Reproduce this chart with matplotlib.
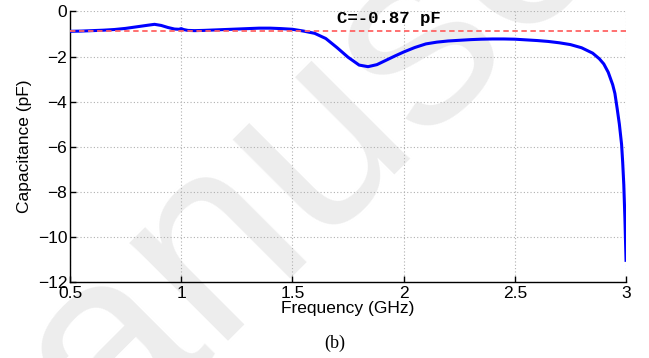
import numpy as np
import matplotlib
matplotlib.use("Agg")
import matplotlib.pyplot as plt

# measured capacitance vs frequency
freq = [0.50, 0.55, 0.60, 0.65, 0.70, 0.75, 0.80, 0.85, 0.88, 0.91,
        0.94, 0.97, 0.99, 1.00, 1.01, 1.03, 1.06, 1.10, 1.15, 1.20,
        1.25, 1.30, 1.35, 1.40, 1.45, 1.50, 1.55, 1.60, 1.65, 1.70,
        1.75, 1.80, 1.84, 1.88, 1.92, 1.96, 2.00, 2.05, 2.10, 2.15,
        2.20, 2.25, 2.30, 2.35, 2.40, 2.45, 2.50, 2.55, 2.60, 2.65,
        2.70, 2.75, 2.80, 2.85, 2.88, 2.90, 2.92, 2.94, 2.95, 2.96,
        2.97, 2.98, 2.985, 2.99, 2.995, 3.00]
cap = [-0.88, -0.87, -0.85, -0.83, -0.80, -0.75, -0.68, -0.61, -0.57, -0.62,
       -0.71, -0.78, -0.79, -0.76, -0.80, -0.84, -0.85, -0.84, -0.82, -0.80,
       -0.78, -0.76, -0.74, -0.74, -0.76, -0.79, -0.87, -0.97, -1.20, -1.60,
       -2.03, -2.38, -2.45, -2.36, -2.17, -1.98, -1.80, -1.60, -1.44, -1.36,
       -1.31, -1.28, -1.25, -1.23, -1.22, -1.22, -1.23, -1.26, -1.29, -1.33,
       -1.39, -1.47, -1.61, -1.85, -2.10, -2.33, -2.70, -3.25, -3.64, -4.30,
       -5.00, -5.90, -6.70, -7.70, -9.20, -11.05]
c_ref = -0.87

xticks = [0.5, 1, 1.5, 2, 2.5, 3]
yticks = [0, -2, -4, -6, -8, -10, -12]

plt.rcParams['font.family'] = ['Liberation Sans', 'DejaVu Sans']
plt.rcParams['font.size'] = 12.5

fig = plt.figure(figsize=(6.49, 3.58), dpi=100)
fig.patch.set_facecolor('white')

# light diagonal watermark, kept below the axes
fig.text(-0.077, -0.668, "Manuscript", rotation=45, rotation_mode='anchor',
         ha='left', va='baseline', fontsize=190, color='#ededed', zorder=-1)

ax = fig.add_axes([0.1079, 0.2131, 0.8567, 0.7548])
ax.set_facecolor('none')

ax.plot(freq, cap, color=(0, 0, 1), lw=2.2, zorder=3)
ax.axhline(c_ref, color='#ff6464', lw=1.3, ls=(0, (3, 2)), zorder=4)
ax.text(1.70, -0.29, "C=-0.87 pF", family=['Liberation Mono', 'DejaVu Sans Mono'],
        fontweight='bold', fontsize=12.5, va='center', ha='left', zorder=5)

ax.set_xlim(0.5, 3)
ax.set_ylim(-12, 0)
ax.set_xticks(xticks)
ax.set_xticklabels(['0.5', '1', '1.5', '2', '2.5', '3'])
ax.set_yticks(yticks)

ax.grid(True, color='#b0b0b0', ls=(0, (1, 2)), lw=0.8)
for s in ['top', 'right']:
    ax.spines[s].set_visible(False)
for s in ['left', 'bottom']:
    ax.spines[s].set_linewidth(1.0)
ax.tick_params(direction='in', length=4, width=1.0, pad=2)
ax.tick_params(axis='x', pad=3)

ax.set_xlabel("Frequency (GHz)", labelpad=0)
ax.set_ylabel("Capacitance (pF)", labelpad=4)

fig.text(0.516, 0.042, "(b)", family=['Liberation Serif', 'DejaVu Serif'],
         fontsize=13, ha='center', va='center')

fig.savefig("out.png", dpi=100, facecolor='white')
